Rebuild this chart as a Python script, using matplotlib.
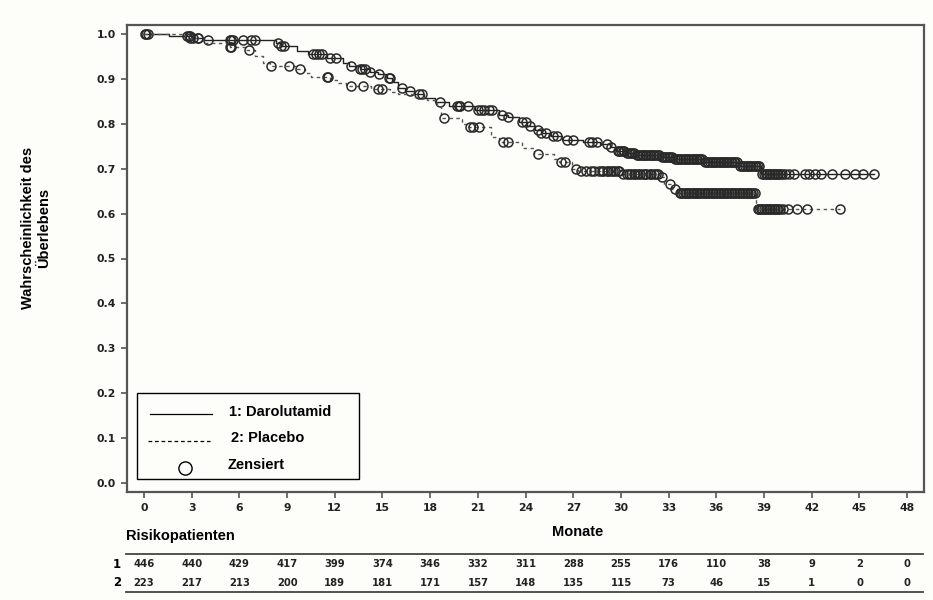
import numpy as np
import matplotlib.pyplot as plt
from matplotlib.lines import Line2D
from matplotlib.patches import Rectangle

# Kaplan-Meier steps (time in months, survival after the step)
daro_t = [0, 1.6, 3.0, 3.8, 8.3, 8.6, 9.6, 10.3, 11.5, 12.5, 12.9, 13.6, 14.2, 14.7,
          15.3, 15.6, 16.0, 16.4, 17.0, 17.6, 18.3, 19.2, 20.8, 22.3, 22.9, 23.6, 24.1,
          24.6, 25.0, 25.6, 26.3, 27.6, 28.7, 29.3, 29.7, 30.3, 30.9, 32.5, 33.3, 35.2,
          37.4, 38.8]
daro_s = [1.0, 0.996, 0.991, 0.986, 0.979, 0.974, 0.962, 0.955, 0.946, 0.935, 0.928,
          0.922, 0.916, 0.911, 0.902, 0.894, 0.880, 0.872, 0.866, 0.857, 0.849, 0.840,
          0.831, 0.820, 0.815, 0.804, 0.795, 0.786, 0.779, 0.772, 0.765, 0.760, 0.754,
          0.748, 0.740, 0.735, 0.730, 0.726, 0.721, 0.715, 0.707, 0.688]
daro_end = 45.9

plac_t = [0, 2.6, 3.7, 5.4, 6.4, 7.0, 7.5, 7.9, 9.6, 10.1, 10.5, 11.7, 12.2, 12.7, 14.3,
          15.5, 16.0, 17.0, 17.8, 18.4, 18.7, 20.0, 20.4, 21.8, 22.3, 23.8, 24.5, 25.8,
          26.1, 26.9, 27.3, 30.0, 32.4, 32.7, 33.2, 33.6, 38.5]
plac_s = [1.0, 0.990, 0.979, 0.971, 0.964, 0.950, 0.935, 0.929, 0.922, 0.914, 0.905,
          0.898, 0.890, 0.884, 0.877, 0.870, 0.866, 0.860, 0.852, 0.840, 0.813, 0.800,
          0.792, 0.770, 0.760, 0.745, 0.732, 0.722, 0.716, 0.700, 0.695, 0.689, 0.681,
          0.665, 0.655, 0.645, 0.610]
plac_end = 43.8

# censoring times
daro_cens = [0.05, 0.25, 2.7, 2.8, 2.9, 3.4, 4.0, 5.4, 5.5, 5.6, 6.2, 6.7, 7.0, 8.4, 8.6,
             8.8, 10.6, 10.8, 11.0, 11.2, 11.7, 12.1, 13.0, 13.6, 13.7, 13.9, 14.2, 14.8,
             15.4, 15.5, 16.2, 16.7, 17.3, 17.5, 18.6, 19.7, 19.8, 19.9, 20.4, 21.0, 21.2,
             21.4, 21.7, 21.9, 22.5, 22.9, 23.8, 24.0, 24.3, 24.8, 25.0, 25.3, 25.7, 26.0,
             26.6, 27.0, 28.0, 28.2, 28.5, 29.1, 29.4,
             29.8, 29.9, 30.0, 30.1, 30.2, 30.4, 30.5, 30.6, 30.7, 30.8, 31.0, 31.1, 31.2,
             31.3, 31.4, 31.5, 31.6, 31.7, 31.8, 31.9, 32.0, 32.1, 32.2, 32.3, 32.4, 32.6,
             32.7, 32.8, 32.9, 33.0, 33.1, 33.2, 33.4, 33.5, 33.6, 33.7, 33.8, 33.9, 34.0,
             34.1, 34.2, 34.3, 34.4, 34.5, 34.6, 34.7, 34.8, 34.9, 35.0, 35.1, 35.3, 35.4,
             35.5, 35.6, 35.7, 35.8, 35.9, 36.0, 36.1, 36.2, 36.3, 36.4, 36.5, 36.6, 36.7,
             36.8, 36.9, 37.0, 37.1, 37.2, 37.3, 37.5, 37.6, 37.7, 37.8, 37.9, 38.0, 38.1,
             38.2, 38.3, 38.4, 38.5, 38.6, 38.7,
             38.9, 39.0, 39.1, 39.2, 39.3, 39.4, 39.5, 39.6, 39.7, 39.8, 39.9, 40.0, 40.1,
             40.3, 40.6, 40.9, 41.6, 41.8, 42.2, 42.6, 43.3, 44.1, 44.7, 45.2, 45.9]
plac_cens = [0.1, 2.9, 3.1, 3.4, 5.4, 5.5, 6.6, 8.0, 9.1, 9.8, 11.5, 11.6, 13.0, 13.8,
             14.7, 15.0, 18.9, 20.5, 20.7, 21.1, 22.6, 22.9, 24.8, 26.2, 26.5, 27.2, 27.5,
             27.8, 28.1, 28.3, 28.6, 28.8, 28.9, 29.1, 29.2, 29.4, 29.5, 29.6, 29.8, 29.9,
             30.1, 30.4, 30.5, 30.6, 30.8, 30.9, 31.1, 31.2, 31.4, 31.5, 31.6, 31.8, 31.9,
             32.1, 32.2, 32.3, 32.6, 33.1, 33.4,
             33.7, 33.8, 33.9, 34.0, 34.1, 34.2, 34.3, 34.4, 34.5, 34.6, 34.7, 34.8, 34.9,
             35.0, 35.1, 35.2, 35.3, 35.4, 35.5, 35.6, 35.7, 35.8, 35.9, 36.0, 36.1, 36.2,
             36.3, 36.4, 36.5, 36.6, 36.7, 36.8, 36.9, 37.0, 37.1, 37.2, 37.3, 37.4, 37.5,
             37.6, 37.7, 37.8, 37.9, 38.0, 38.1, 38.2, 38.3, 38.4,
             38.6, 38.7, 38.8, 38.9, 39.0, 39.1, 39.2, 39.3, 39.4, 39.5, 39.6, 39.7, 39.8,
             39.9, 40.0, 40.2, 40.5, 41.1, 41.7, 43.8]

risk_months = [0, 3, 6, 9, 12, 15, 18, 21, 24, 27, 30, 33, 36, 39, 42, 45, 48]
risk_daro = [446, 440, 429, 417, 399, 374, 346, 332, 311, 288, 255, 176, 110, 38, 9, 2, 0]
risk_plac = [223, 217, 213, 200, 189, 181, 171, 157, 148, 135, 115, 73, 46, 15, 1, 0, 0]

y_ticks = [0.0, 0.1, 0.2, 0.3, 0.4, 0.5, 0.6, 0.7, 0.8, 0.9, 1.0]

W, H = 933, 600
bg = '#fdfdfa'
fig = plt.figure(figsize=(W / 100, H / 100), dpi=100, facecolor=bg)
ax = fig.add_axes([127 / W, 1 - 492 / H, (924 - 127) / W, (492 - 25) / H])
ax.set_facecolor(bg)


def km_at(times, surv, x):
    idx = np.searchsorted(times, x, side='right') - 1
    return np.array(surv)[idx]


for t, s, end, cens, ls, col in [
        (daro_t, daro_s, daro_end, daro_cens, '-', '#222222'),
        (plac_t, plac_s, plac_end, plac_cens, (0, (2.5, 2.5)), '#555555')]:
    ax.step(t + [end], s + [s[-1]], where='post', color=col, lw=1.0, linestyle=ls)
    ax.plot(cens, km_at(t, s, cens), 'o', ms=6.5, mfc='none', mec='#2a2a2a', mew=1.1)

ax.set_xlim(-1.07, 49.06)
ax.set_ylim(-0.02, 1.02)
ax.set_xticks(risk_months)
ax.set_yticks(y_ticks)
ax.set_yticklabels([f'{v:.1f}' for v in y_ticks])
tick_font = dict(family='DejaVu Sans', weight='bold', size=7.8)
for lab in ax.get_xticklabels() + ax.get_yticklabels():
    lab.set_fontproperties(tick_font)
    lab.set_color('#222222')
ax.tick_params(direction='out', length=4, width=1.2, color='#555555', pad=4)
for sp in ax.spines.values():
    sp.set_color('#555555')
    sp.set_linewidth(1.6)

# legend box, drawn by hand
lab_font = dict(family='Liberation Sans', weight='bold', size=10.5)
fig.patches.append(Rectangle((137 / W, 1 - 479 / H), (359 - 137) / W, (479 - 393) / H,
                             transform=fig.transFigure, fill=False, ec='black', lw=1.0))
fig.lines.append(Line2D([150 / W, 212 / W], [1 - 414 / H] * 2, color='black', lw=0.9,
                        transform=fig.transFigure))
fig.lines.append(Line2D([148 / W, 210 / W], [1 - 441 / H] * 2, color='black', lw=0.9,
                        linestyle=(0, (3, 2.2)), transform=fig.transFigure))
fig.lines.append(Line2D([185 / W], [1 - 468 / H], marker='o', ms=9.5, mfc='none',
                        mec='black', mew=1.0, transform=fig.transFigure))
fig.text(229 / W, 1 - 412 / H, '1: Darolutamid', va='center', **lab_font)
fig.text(231 / W, 1 - 438 / H, '2: Placebo', va='center', **lab_font)
fig.text(228 / W, 1 - 465 / H, 'Zensiert', va='center', **lab_font)

# axis titles
fig.text(36 / W, 1 - 228 / H, 'Wahrscheinlichkeit des\nÜberlebens', rotation=90,
         ha='center', va='center', multialignment='center', linespacing=1.2, **lab_font)
fig.text(578 / W, 1 - 532 / H, 'Monate', ha='center', va='center', **lab_font)
fig.text(126 / W, 1 - 536 / H, 'Risikopatienten', ha='left', va='center', **lab_font)

# number at risk table
for yy in (554, 592):
    fig.lines.append(Line2D([126 / W, 923 / W], [1 - yy / H] * 2, color='#444444', lw=1.3,
                            transform=fig.transFigure))
num_font = dict(family='DejaVu Sans', weight='bold', size=7.2)
for row, yy, vals in [('1', 564, risk_daro), ('2', 583, risk_plac)]:
    fig.text(117 / W, 1 - yy / H, row, ha='center', va='center',
             family='DejaVu Sans', weight='bold', size=8.5)
    for m, v in zip(risk_months, vals):
        xf = fig.transFigure.inverted().transform(ax.transData.transform((m, 0)))[0]
        fig.text(xf, 1 - yy / H, str(v), ha='center', va='center', color='#222222',
                 **num_font)

fig.savefig('out.png', dpi=100, facecolor=bg)
